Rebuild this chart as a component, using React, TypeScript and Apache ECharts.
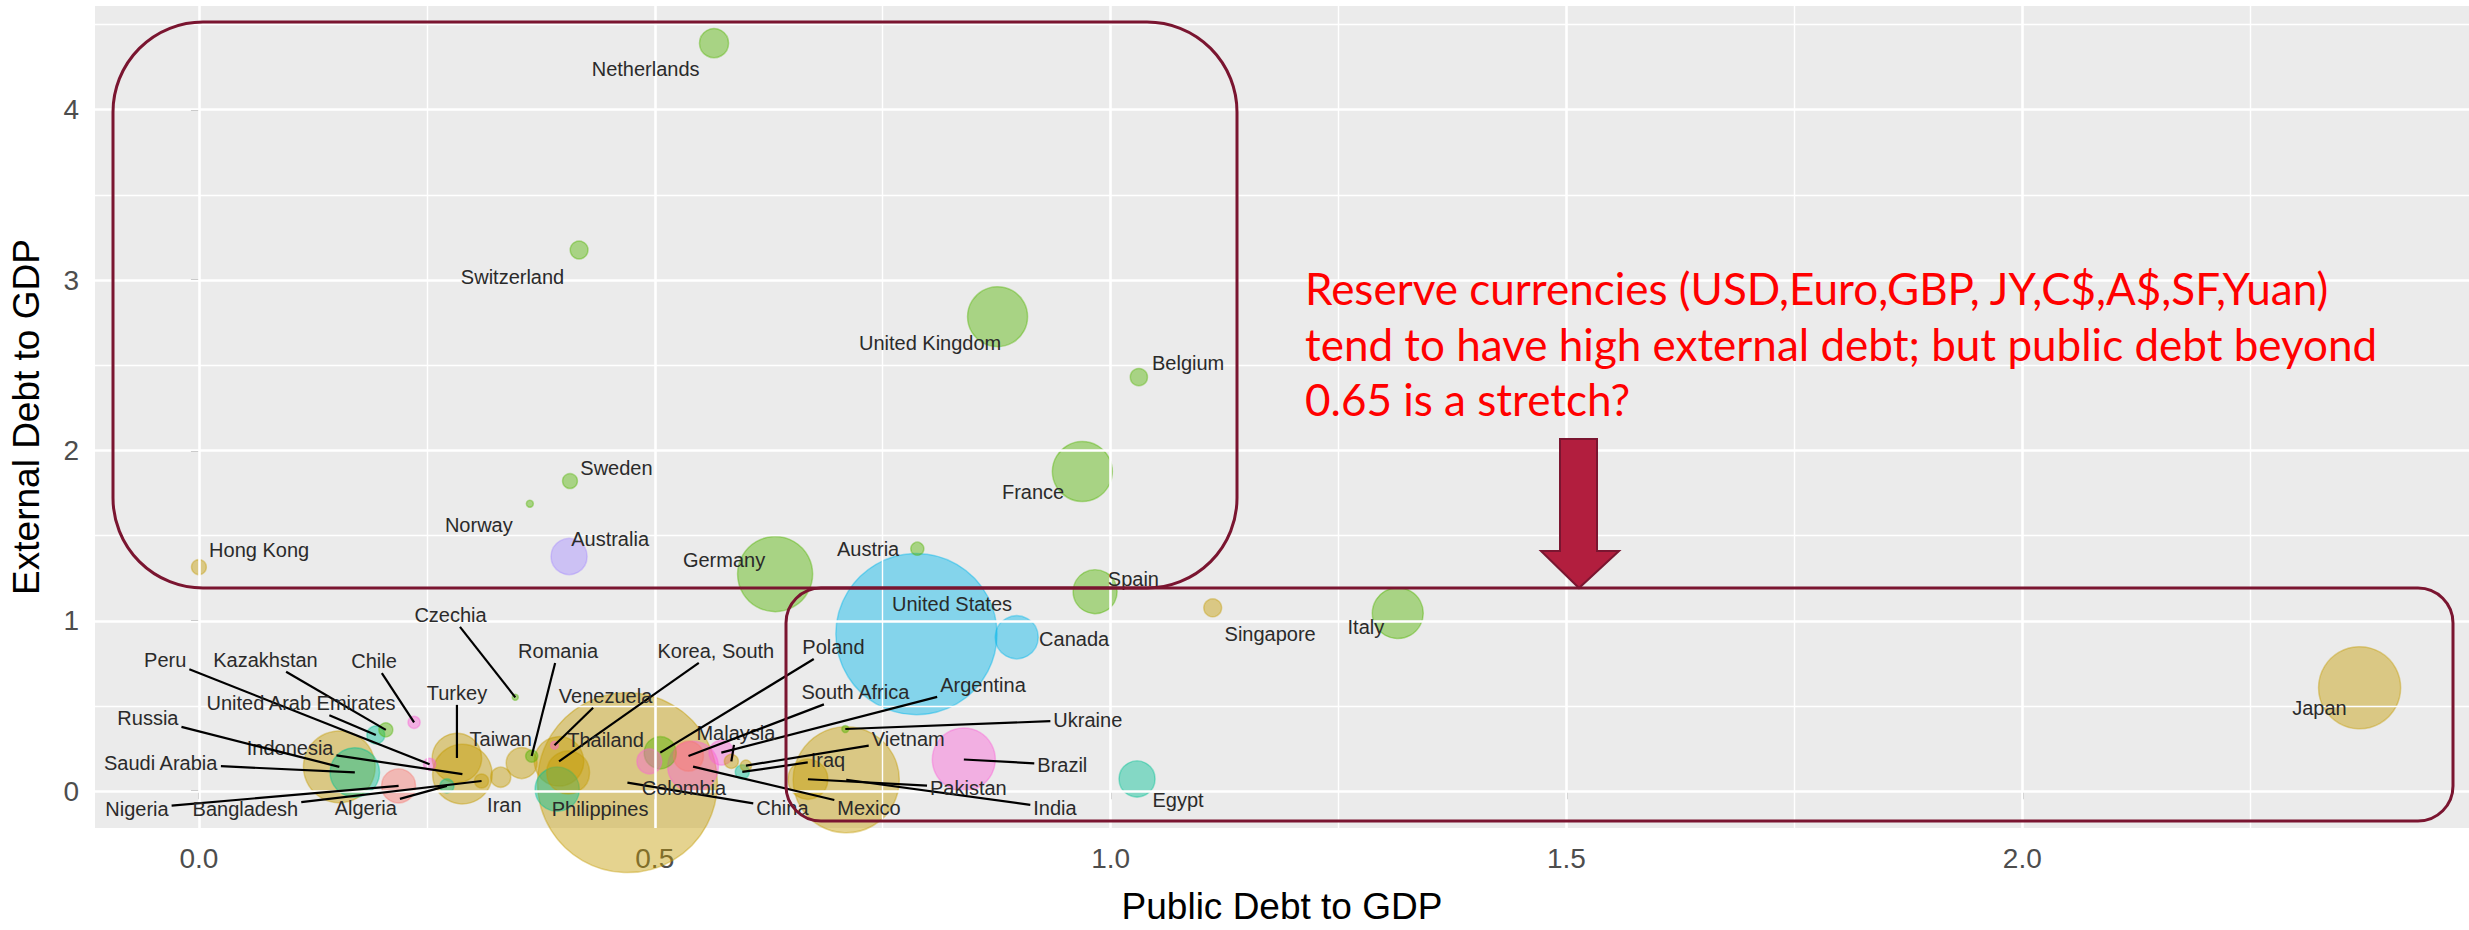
import React, { useEffect, useRef } from "react";
import * as echarts from "echarts";

// ---------- data ----------
const countries = [
  "Netherlands", "Switzerland", "United Kingdom", "Belgium", "Sweden", "Norway", "Australia", "Hong Kong",
  "Germany", "France", "Austria", "Spain", "United States", "Canada", "Singapore", "Italy", "Japan", "Egypt",
  "Brazil", "China", "India", "Pakistan", "Mexico", "Argentina", "Malaysia", "South Africa", "Poland",
  "Colombia", "Iraq", "Vietnam", "Ukraine", "Korea, South", "Thailand", "Venezuela", "Romania", "Philippines",
  "Taiwan", "Iran", "Czechia", "Turkey", "Indonesia", "Russia", "Saudi Arabia", "Peru", "Kazakhstan",
  "United Arab Emirates", "Chile", "Nigeria", "Algeria", "Bangladesh",
];
const publicDebt = [
  0.565, 0.417, 0.876, 1.031, 0.407, 0.363, 0.406, 0.0,
  0.632, 0.969, 0.788, 0.983, 0.787, 0.897, 1.112, 1.315, 2.37, 1.029,
  0.839, 0.47, 0.71, 0.668, 0.542, 0.573, 0.584, 0.537, 0.506,
  0.494, 0.596, 0.6, 0.709, 0.395, 0.405, 0.39, 0.365, 0.393,
  0.354, 0.331, 0.347, 0.283, 0.289, 0.154, 0.171, 0.253, 0.205,
  0.194, 0.236, 0.219, 0.272, 0.31,
];
const externalDebt = [
  4.39, 3.176, 2.785, 2.43, 1.82, 1.687, 1.377, 1.315,
  1.274, 1.876, 1.423, 1.171, 0.922, 0.903, 1.076, 1.045, 0.607, 0.072,
  0.186, 0.05, 0.067, 0.07, 0.144, 0.226, 0.175, 0.206, 0.226,
  0.175, 0.113, 0.15, 0.365, 0.175, 0.11, 0.27, 0.206, 0.012,
  0.165, 0.082, 0.551, 0.195, 0.1, 0.143, 0.11, 0.158, 0.36,
  0.33, 0.404, 0.031, 0.031, 0.06,
];
// bubble size variable (GDP, $ trillions)
const gdp = [
  0.69, 0.26, 2.94, 0.24, 0.18, 0.04, 1.06, 0.18,
  4.6, 2.94, 0.14, 1.58, 21.2, 1.51, 0.26, 2.12, 5.5, 1.06,
  3.24, 26.4, 9.2, 1.3, 2.1, 0.5, 0.16, 0.73, 0.84,
  0.5, 0.16, 0.1, 0.04, 2.0, 1.5, 0.05, 0.12, 1.6,
  0.78, 0.33, 0.03, 2.0, 2.9, 4.2, 2.0, 0.12, 0.16,
  0.26, 0.12, 0.94, 0.16, 0.16,
];
const region = [
  "Europe", "Europe", "Europe", "Europe", "Europe", "Europe", "Oceania", "Asia",
  "Europe", "Europe", "Europe", "Europe", "North America", "North America", "Asia", "Europe", "Asia", "Middle East",
  "South America", "Asia", "Asia", "Asia", "South America", "South America", "Asia", "Africa", "Europe",
  "South America", "Middle East", "Asia", "Europe", "Asia", "Asia", "South America", "Europe", "Middle East",
  "Asia", "Asia", "Europe", "Asia", "Asia", "Asia", "Middle East", "South America", "Europe",
  "Middle East", "South America", "Africa", "Middle East", "Asia",
];
const regions = ["Africa", "Asia", "Europe", "Middle East", "North America", "Oceania", "South America"];

// repelled label anchors (data units) and whether a leader segment is drawn
const labelX = [
  0.49, 0.344, 0.802, 1.085, 0.458, 0.307, 0.451, 0.066,
  0.576, 0.915, 0.734, 1.025, 0.826, 0.96, 1.175, 1.28, 2.326, 1.074,
  0.947, 0.64, 0.939, 0.844, 0.735, 0.86, 0.589, 0.72, 0.696,
  0.532, 0.69, 0.778, 0.975, 0.567, 0.446, 0.446, 0.394, 0.44,
  0.331, 0.335, 0.276, 0.283, 0.1, -0.056, -0.042, -0.037, 0.073,
  0.112, 0.192, -0.068, 0.183, 0.051,
];
const labelY = [
  4.236, 3.02, 2.63, 2.51, 1.897, 1.56, 1.48, 1.414,
  1.356, 1.753, 1.423, 1.243, 1.097, 0.891, 0.922, 0.965, 0.489, -0.05,
  0.155, -0.1, -0.1, 0.02, -0.1, 0.623, 0.342, 0.58, 0.846,
  0.016, 0.186, 0.305, 0.419, 0.823, 0.298, 0.56, 0.823, -0.105,
  0.305, -0.082, 1.035, 0.577, 0.251, 0.427, 0.163, 0.771, 0.771,
  0.516, 0.763, -0.102, -0.1, -0.102,
];
const leader = [
  0, 0, 0, 0, 0, 0, 0, 0,
  0, 0, 0, 0, 0, 0, 0, 0, 0, 0,
  1, 1, 1, 1, 1, 1, 1, 1, 1,
  0, 1, 1, 1, 1, 0, 1, 1, 0,
  0, 0, 1, 1, 1, 1, 1, 1, 1,
  1, 1, 1, 1, 1,
];

const xTicks = [0, 0.5, 1, 1.5, 2];
const xMinor = [0.25, 0.75, 1.25, 1.75, 2.25];
const yTicks = [0, 1, 2, 3, 4];
const yMinor = [0.5, 1.5, 2.5, 3.5, 4.5];

const annotationLines = [
  "Reserve currencies (USD,Euro,GBP, JY,C$,A$,SF,Yuan)",
  "tend to have high external debt; but public debt beyond",
  "0.65 is a stretch?",
];

// ---------- styles ----------
const palette = ["#F8766D", "#C49A00", "#53B400", "#00C094", "#00B6EB", "#A58AFF", "#FB61D7"];
const FONT = "'Liberation Sans', Arial, Helvetica, sans-serif";
const LABEL_SIZE = 20;
const BOX = "#7A1530";

function rgba(hex: string, a: number) {
  const n = parseInt(hex.slice(1), 16);
  return `rgba(${(n >> 16) & 255},${(n >> 8) & 255},${n & 255},${a})`;
}

let measureCtx: CanvasRenderingContext2D | null = null;
function textWidth(s: string) {
  if (!measureCtx) measureCtx = document.createElement("canvas").getContext("2d");
  if (!measureCtx) return s.length * LABEL_SIZE * 0.5;
  measureCtx.font = `${LABEL_SIZE}px 'Liberation Sans', Arial, sans-serif`;
  return measureCtx.measureText(s).width;
}

export default function App() {
  const ref = useRef<HTMLDivElement>(null);

  useEffect(() => {
    if (!ref.current) return;
    const chart = echarts.init(ref.current, null, { renderer: "svg" });

    const order = countries.map((_, i) => i).sort((a, b) => gdp[b] - gdp[a]);
    const bubbles = order.map((i) => {
      const c = palette[regions.indexOf(region[i])];
      return {
        name: countries[i],
        value: [publicDebt[i], externalDebt[i], gdp[i]],
        itemStyle: { color: rgba(c, 0.55), borderColor: rgba(c, 0.5), borderWidth: 1.5 },
      };
    });

    const gridLines = [
      ...xTicks.map((v) => ({ xAxis: v, lineStyle: { color: "#ffffff", width: 2.6, type: "solid" } })),
      ...xMinor.map((v) => ({ xAxis: v, lineStyle: { color: "#ffffff", width: 1.4, type: "solid" } })),
      ...yTicks.map((v) => ({ yAxis: v, lineStyle: { color: "#ffffff", width: 2.6, type: "solid" } })),
      ...yMinor.map((v) => ({ yAxis: v, lineStyle: { color: "#ffffff", width: 1.4, type: "solid" } })),
    ];

    const arrow = [
      [1560, 439], [1597, 439], [1597, 551], [1619, 551], [1579, 588], [1541, 551], [1560, 551],
    ];

    chart.setOption({
      animation: false,
      grid: {
        left: 94, right: 0, top: 6, bottom: 99,
        show: true, backgroundColor: "#EBEBEB", borderWidth: 0, containLabel: false,
      },
      xAxis: {
        type: "value", min: -0.114, max: 2.49,
        axisLine: { show: false },
        axisTick: { show: true, length: 8, lineStyle: { color: "#333333", width: 2 }, customValues: xTicks },
        axisLabel: {
          customValues: xTicks, formatter: (v: number) => v.toFixed(1),
          color: "#4D4D4D", fontSize: 28, margin: 16, fontFamily: FONT,
        },
        splitLine: { show: false },
        name: "Public Debt to GDP", nameLocation: "middle", nameGap: 60,
        nameTextStyle: { fontSize: 37, color: "#000000", fontFamily: FONT },
      },
      yAxis: {
        type: "value", min: -0.216, max: 4.608,
        axisLine: { show: false },
        axisTick: { show: true, length: 8, lineStyle: { color: "#333333", width: 2 }, customValues: yTicks },
        axisLabel: {
          customValues: yTicks, formatter: (v: number) => String(v),
          color: "#4D4D4D", fontSize: 28, margin: 16, fontFamily: FONT,
        },
        splitLine: { show: false },
        name: "External Debt to GDP", nameLocation: "middle", nameGap: 50,
        nameTextStyle: { fontSize: 37, color: "#000000", fontFamily: FONT },
      },
      series: [
        {
          type: "scatter", data: [], silent: true, z: 1,
          markLine: {
            silent: true, symbol: ["none", "none"], label: { show: false }, animation: false,
            data: gridLines,
          },
        },
        {
          type: "scatter", z: 2, silent: true,
          symbolSize: (val: number[]) => 35 * Math.sqrt(val[2]),
          data: bubbles,
        },
        {
          type: "custom", coordinateSystem: "cartesian2d", z: 5, silent: true, clip: false,
          data: countries.map((_, i) => [labelX[i], labelY[i], publicDebt[i], externalDebt[i], i]),
          renderItem: (params: any, api: any) => {
            const i = api.value(4);
            const lc = api.coord([api.value(0), api.value(1)]);
            const pc = api.coord([api.value(2), api.value(3)]);
            const children: any[] = [];
            if (leader[i]) {
              const hw = textWidth(countries[i]) / 2 + 3;
              const hh = LABEL_SIZE * 0.6;
              const dx = pc[0] - lc[0];
              const dy = pc[1] - lc[1];
              const t = Math.min(dx ? hw / Math.abs(dx) : Infinity, dy ? hh / Math.abs(dy) : Infinity);
              if (t < 1) {
                children.push({
                  type: "line",
                  shape: { x1: lc[0] + dx * t, y1: lc[1] + dy * t, x2: pc[0], y2: pc[1] },
                  style: { stroke: "#000000", lineWidth: 2.2 },
                });
              }
            }
            children.push({
              type: "text", x: lc[0], y: lc[1],
              style: {
                text: countries[i], fill: "#2A2A2A",
                font: `${LABEL_SIZE}px 'Liberation Sans', Arial, sans-serif`,
                align: "center", verticalAlign: "middle",
                textAlign: "center", textVerticalAlign: "middle",
              },
            });
            return { type: "group", children };
          },
        },
      ],
      graphic: [
        {
          type: "rect", z: 100, silent: true,
          shape: { x: 113, y: 22, width: 1124, height: 566, r: 90 },
          style: { fill: "none", stroke: BOX, lineWidth: 3 },
        },
        {
          type: "rect", z: 100, silent: true,
          shape: { x: 786, y: 588, width: 1667, height: 233, r: 35 },
          style: { fill: "none", stroke: BOX, lineWidth: 3 },
        },
        {
          type: "polygon", z: 101, silent: true,
          shape: { points: arrow },
          style: { fill: "#B21E3E", stroke: BOX, lineWidth: 2 },
        },
        ...annotationLines.map((s, k) => ({
          type: "text", z: 102, silent: true,
          x: 1305, y: 288 + k * 55.5,
          style: {
            text: s, fill: "#FF0000", font: "44px Lato, 'Open Sans', sans-serif",
            align: "left", verticalAlign: "middle", textAlign: "left", textVerticalAlign: "middle",
          },
        })),
      ],
    });

    return () => chart.dispose();
  }, []);

  return (
    <div
      ref={ref}
      style={{ position: "fixed", left: 0, top: 0, width: 2469, height: 930, background: "#ffffff" }}
    />
  );
}
